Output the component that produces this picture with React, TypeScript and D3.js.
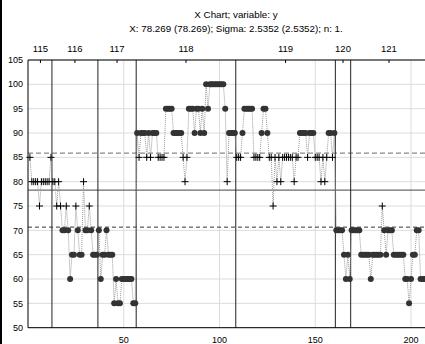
import { useEffect, useRef } from "react";
import * as d3 from "d3";

// X chart, one value per sample, grouped by phase
const phaseLabels = ["115", "116", "117", "118", "119", "120", "121"];
const phaseLengths = [12, 24, 20, 52, 52, 8, 40];

const values = [
  // 115
  85, 80, 80, 80, 80, 75, 80, 80, 80, 80, 80, 85,
  // 116
  80, 80, 75, 80, 75, 70, 70, 75, 70, 60, 65, 65, 75, 70, 65, 65, 80, 70, 70, 75, 70, 65, 65, 65,
  // 117
  70, 60, 65, 65, 70, 65, 65, 65, 55, 60, 55, 55, 60, 60, 60, 60, 60, 60, 55, 55,
  // 118
  90, 85, 90, 90, 90, 85, 90, 85, 90, 90, 90, 85, 85, 85, 85, 95, 95, 95, 95, 90,
  90, 90, 90, 90, 85, 80, 85, 95, 95, 95, 90, 95, 95, 90, 95, 90, 100, 95, 100, 100,
  100, 100, 100, 100, 100, 100, 95, 80, 90, 90, 90, 90,
  // 119
  85, 85, 85, 90, 95, 95, 95, 95, 95, 85, 85, 85, 85, 90, 95, 95, 90, 85, 85, 75,
  85, 80, 85, 80, 85, 85, 85, 85, 85, 85, 80, 85, 85, 90, 90, 90, 90, 85, 90, 90,
  90, 85, 85, 85, 80, 85, 80, 85, 90, 90, 85, 90,
  // 120
  70, 70, 70, 70, 65, 60, 65, 60,
  // 121
  70, 70, 70, 70, 70, 65, 65, 65, 65, 65, 60, 65, 65, 65, 65, 65, 75, 70, 65, 70,
  70, 70, 65, 65, 65, 65, 65, 65, 60, 60, 55, 60, 65, 65, 70, 70, 60, 60, 60, 60,
];

const xBar = 78.269;
const sigma = 2.5352;
const xTicks = [50, 100, 150, 200];
const yTicks = [50, 55, 60, 65, 70, 75, 80, 85, 90, 95, 100, 105];

export default function App() {
  const svgRef = useRef<SVGSVGElement>(null);

  useEffect(() => {
    if (!svgRef.current) return;
    const W = 425;
    const H = 344;
    const top = 60;
    const bottom = 327.7;
    const left = 28;

    const ucl = xBar + 3 * sigma;
    const lcl = xBar - 3 * sigma;

    d3.select(svgRef.current).selectAll("*").remove();
    const svg = d3.select(svgRef.current);
    const font = "'Liberation Sans', Arial, sans-serif";

    const x = d3.scaleLinear().domain([0, 209]).range([left, left + 209 * 1.915]);
    const y = d3.scaleLinear().domain([50, 105]).range([bottom, top]);

    svg.append("rect").attr("width", W).attr("height", H).attr("fill", "#fff");

    // Title
    svg.append("text")
      .attr("x", 236).attr("y", 18)
      .attr("text-anchor", "middle")
      .attr("font-family", font).attr("font-size", "9.8px").attr("fill", "#000")
      .text("X Chart; variable:  y");
    svg.append("text")
      .attr("x", 236).attr("y", 32)
      .attr("text-anchor", "middle")
      .attr("font-family", font).attr("font-size", "9.8px").attr("fill", "#000")
      .text(`X: ${xBar} (${xBar}); Sigma: ${sigma} (${sigma}); n: 1.`);

    // Grid
    svg.append("g")
      .selectAll("line")
      .data(yTicks)
      .enter()
      .append("line")
      .attr("x1", left).attr("x2", W)
      .attr("y1", (d) => y(d)).attr("y2", (d) => y(d))
      .attr("stroke", "#dcdcdc");
    svg.append("g")
      .selectAll("line")
      .data(xTicks)
      .enter()
      .append("line")
      .attr("x1", (d) => x(d)).attr("x2", (d) => x(d))
      .attr("y1", top).attr("y2", bottom)
      .attr("stroke", "#dcdcdc");

    // Control limits
    svg.append("line")
      .attr("x1", left).attr("x2", W)
      .attr("y1", y(ucl)).attr("y2", y(ucl))
      .attr("stroke", "#8a8a8a").attr("stroke-width", 1.3)
      .attr("stroke-dasharray", "5,3");
    svg.append("line")
      .attr("x1", left).attr("x2", W)
      .attr("y1", y(lcl)).attr("y2", y(lcl))
      .attr("stroke", "#333").attr("stroke-width", 1)
      .attr("stroke-dasharray", "4,3");
    svg.append("line")
      .attr("x1", left).attr("x2", W)
      .attr("y1", y(xBar)).attr("y2", y(xBar))
      .attr("stroke", "#444").attr("stroke-width", 1);

    // Phase boundaries and labels
    let start = 1;
    phaseLabels.forEach((label, k) => {
      const end = start + phaseLengths[k] - 1;
      const mid = (start + end) / 2;
      if (k < phaseLabels.length - 1) {
        svg.append("line")
          .attr("x1", x(end + 0.5)).attr("x2", x(end + 0.5))
          .attr("y1", top).attr("y2", bottom)
          .attr("stroke", "#222").attr("stroke-width", 1);
      }
      svg.append("line")
        .attr("x1", x(mid)).attr("x2", x(mid))
        .attr("y1", top).attr("y2", top + 3)
        .attr("stroke", "#000");
      svg.append("text")
        .attr("x", x(mid)).attr("y", 52)
        .attr("text-anchor", "middle")
        .attr("font-family", font).attr("font-size", "9.5px").attr("fill", "#000")
        .text(label);
      start = end + 1;
    });

    const pts = values.map((v, i) => ({ i: i + 1, v }));

    // Connecting line
    const line = d3.line<{ i: number; v: number }>()
      .x((d) => x(d.i))
      .y((d) => y(d.v));
    svg.append("path")
      .datum(pts)
      .attr("fill", "none")
      .attr("stroke", "#999")
      .attr("stroke-width", 1)
      .attr("stroke-dasharray", "1,1")
      .attr("d", line);

    // Points out of limits: filled circles
    svg.append("g")
      .selectAll("circle")
      .data(pts.filter((d) => d.v > ucl || d.v < lcl))
      .enter()
      .append("circle")
      .attr("cx", (d) => x(d.i))
      .attr("cy", (d) => y(d.v))
      .attr("r", 3)
      .attr("fill", "#333");

    // Points within limits: plus markers
    svg.append("g")
      .selectAll("path")
      .data(pts.filter((d) => d.v <= ucl && d.v >= lcl))
      .enter()
      .append("path")
      .attr("transform", (d) => `translate(${x(d.i)},${y(d.v)})`)
      .attr("d", "M-3.5,0H3.5M0,-3.5V3.5")
      .attr("stroke", "#000")
      .attr("stroke-width", 1)
      .attr("fill", "none");

    // Frame
    svg.append("line")
      .attr("x1", left).attr("x2", W).attr("y1", top).attr("y2", top)
      .attr("stroke", "#000");
    svg.append("line")
      .attr("x1", left).attr("x2", W).attr("y1", bottom).attr("y2", bottom)
      .attr("stroke", "#000");
    svg.append("line")
      .attr("x1", left).attr("x2", left).attr("y1", top).attr("y2", bottom)
      .attr("stroke", "#000");

    // Axis labels
    svg.append("g")
      .selectAll("text")
      .data(yTicks)
      .enter()
      .append("text")
      .attr("x", 23)
      .attr("y", (d) => y(d))
      .attr("dy", "0.35em")
      .attr("text-anchor", "end")
      .attr("font-family", font).attr("font-size", "9px").attr("fill", "#000")
      .text((d) => d);
    svg.append("g")
      .selectAll("text")
      .data(xTicks)
      .enter()
      .append("text")
      .attr("x", (d) => x(d))
      .attr("y", 343)
      .attr("text-anchor", "middle")
      .attr("font-family", font).attr("font-size", "9px").attr("fill", "#000")
      .text((d) => d);

    // Window edge
    svg.append("rect").attr("x", 0).attr("y", 0).attr("width", 2).attr("height", H).attr("fill", "#000");
  }, []);

  return (
    <svg
      ref={svgRef}
      width={425}
      height={344}
      style={{ position: "absolute", left: 0, top: 0, overflow: "hidden" }}
    />
  );
}
